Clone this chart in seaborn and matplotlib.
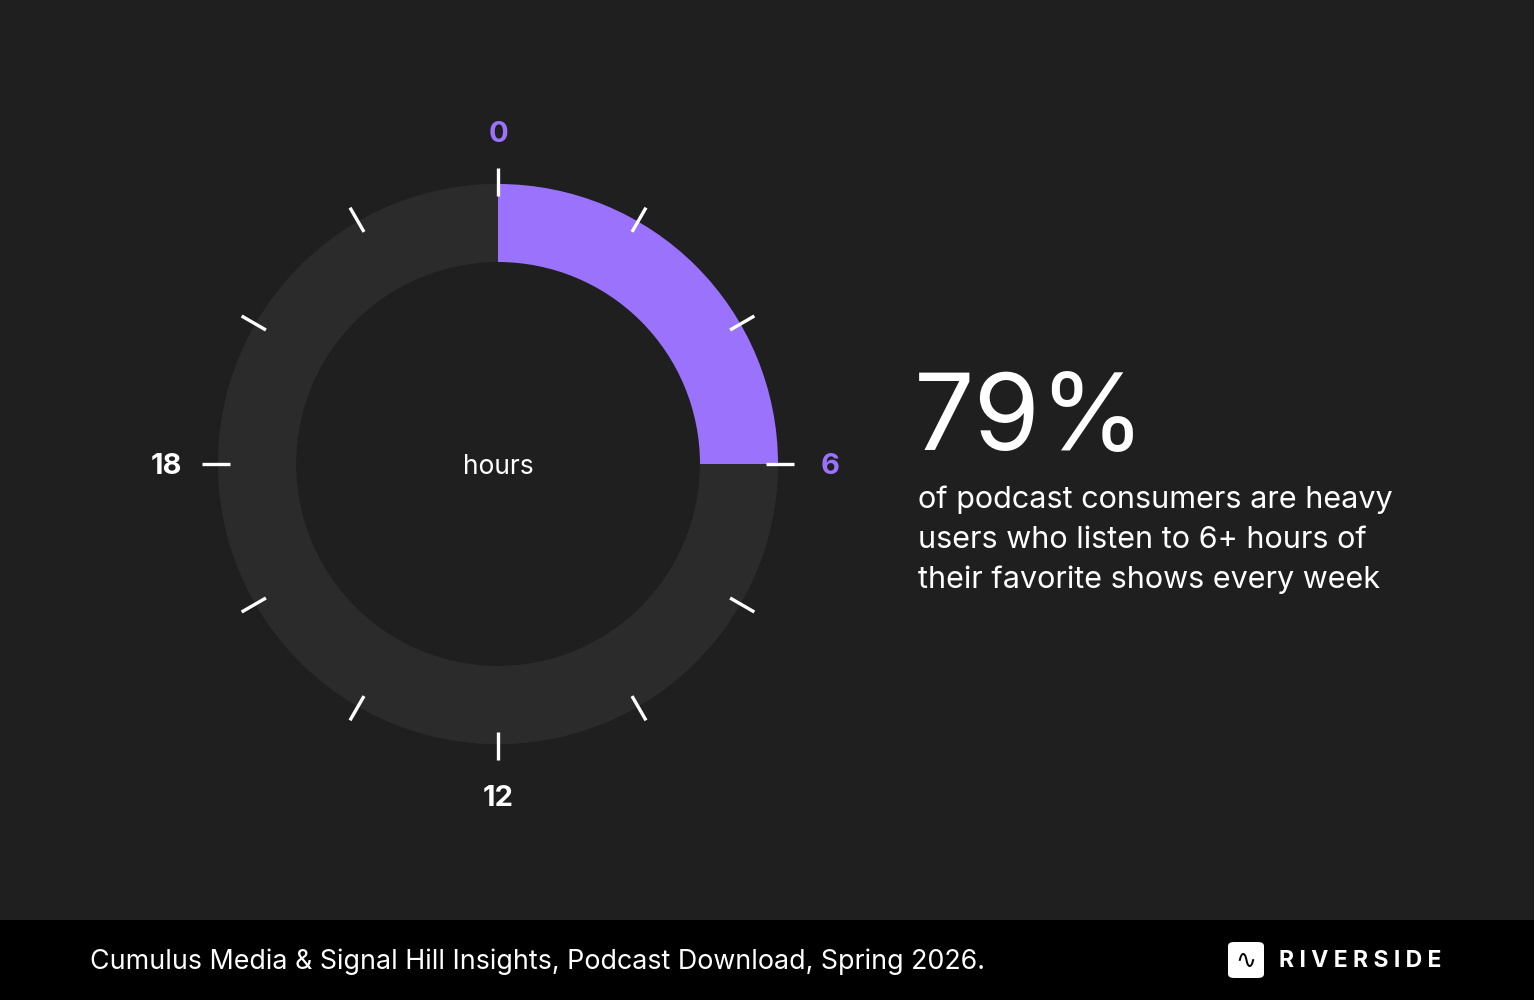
import numpy as np
import matplotlib
matplotlib.use("Agg")
import matplotlib.pyplot as plt
import seaborn as sns
from matplotlib.patches import Rectangle, FancyBboxPatch

# Data
segment_names = ["heavy", "rest"]
segment_hours = [6, 18]          # 0-6 highlighted, rest of the 24h dial
dial_ticks = [0, 2, 4, 6, 8, 10, 12, 14, 16, 18, 20, 22]
dial_labels = [0, 6, 12, 18]
headline = "79%"
body_lines = ["of podcast consumers are heavy",
              "users who listen to 6+ hours of",
              "their favorite shows every week"]
source = "Cumulus Media & Signal Hill Insights, Podcast Download, Spring 2026."

BG = "#1f1f1f"
RING = "#2b2b2b"
PURPLE = "#9a72fc"

sns.set_theme(style="white")
plt.rcParams['font.family'] = ['Inter', 'DejaVu Sans']

W, H = 1534, 1000
fig = plt.figure(figsize=(W / 100, H / 100), dpi=100, facecolor=BG)

# polar axes: 1 unit = 1 px, centre at (498, 464) from top
cx, cy, R = 498, 464, 300
ax = fig.add_axes([(cx - R) / W, (H - cy - R) / H, 2 * R / W, 2 * R / H], projection="polar")
ax.set_theta_zero_location("N")
ax.set_theta_direction(-1)
ax.set_ylim(0, R)
ax.set_facecolor("none")
ax.axis("off")

r_in, r_out = 202, 280
total = sum(segment_hours)
colors = [PURPLE, RING]
# full grey ring underneath, then highlighted segment
ax.bar(0, r_out - r_in, width=2 * np.pi, bottom=r_in, color=RING, align="edge", linewidth=0)
start = 0
for name, h, c in zip(segment_names, segment_hours, colors):
    th0 = 2 * np.pi * start / total
    ax.bar(th0, r_out - r_in, width=2 * np.pi * h / total, bottom=r_in,
           color=c, align="edge", linewidth=0)
    start += h

for t in dial_ticks:
    th = 2 * np.pi * t / total
    ax.plot([th, th], [268, 296], color="white", lw=2.4, solid_capstyle="butt",
            clip_on=False)

for t in dial_labels:
    th = 2 * np.pi * t / total
    col = PURPLE if t <= segment_hours[0] else "white"
    r_lab = 332
    # nudge down a little so glyphs sit like the original
    ax.text(th, r_lab, str(t), color=col, fontsize=21, fontweight="bold",
            ha="center", va="center", clip_on=False,
            transform=ax.transData + matplotlib.transforms.ScaledTranslation(0, -2 / 100, fig.dpi_scale_trans))

ax.text(0, 0, "hours", color="white", fontsize=19, ha="center", va="center",
        transform=ax.transData + matplotlib.transforms.ScaledTranslation(0, -3 / 100, fig.dpi_scale_trans))

# headline text
fig.text(914 / W, 1 - 422 / H, headline, color="white", fontsize=77,
         ha="left", va="center")
for i, line in enumerate(body_lines):
    fig.text(918 / W, 1 - (500 + 40 * i) / H, line, color="white", fontsize=22,
             ha="left", va="center")

# footer band
fig.add_artist(Rectangle((0, 0), 1, 80 / H, transform=fig.transFigure,
                         facecolor="black", edgecolor="none", zorder=0))
fig.text(90 / W, 1 - 962 / H, source, color="white", fontsize=19.3,
         ha="left", va="center")

# logo
fig.add_artist(FancyBboxPatch((1228 / W, 1 - 978 / H), 36 / W, 36 / H,
                              boxstyle="round,pad=0,rounding_size=0.004",
                              transform=fig.transFigure, facecolor="white",
                              edgecolor="none"))
fig.text(1246 / W, 1 - 960 / H, "∿", color="black", fontsize=18,
         family="DejaVu Sans", ha="center", va="center")
fig.text(1279 / W, 1 - 961 / H, "R I V E R S I D E", color="white", fontsize=16.5,
         fontweight="bold", ha="left", va="center")

fig.savefig("out.png", dpi=100, facecolor=BG)
